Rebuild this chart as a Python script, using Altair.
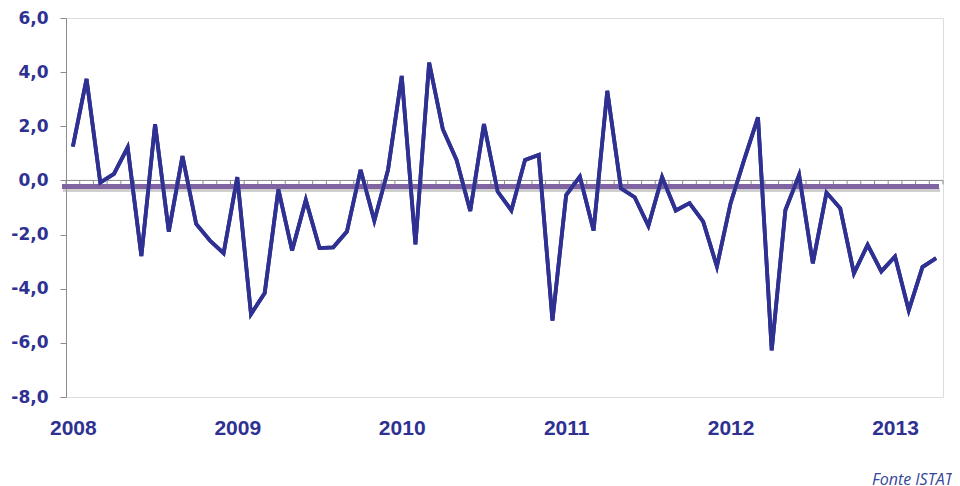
import altair as alt
import pandas as pd
import numpy as np

# Monthly values, Jan 2008 - Apr 2013
values = [
    1.25, 3.75, -0.08, 0.24, 1.22, -2.79, 2.08, -1.89, 0.90, -1.61, -2.22, -2.69,
    0.12, -4.94, -4.16, -0.33, -2.59, -0.72, -2.50, -2.47, -1.89, 0.39, -1.49, 0.39,
    3.86, -2.36, 4.35, 1.89, 0.76, -1.13, 2.08, -0.41, -1.11, 0.76, 0.94, -5.18,
    -0.54, 0.14, -1.85, 3.31, -0.29, -0.62, -1.68, 0.12, -1.11, -0.84, -1.52, -3.18,
    -0.84, 0.78, 2.33, -6.28, -1.09, 0.20, -3.06, -0.45, -1.03, -3.43, -2.38, -3.36,
    -2.81, -4.80, -3.20, -2.87,
]
years = ["2008", "2009", "2010", "2011", "2012", "2013"]
mean_value = [-0.22]
y_ticks = [-8, -6, -4, -2, 0, 2, 4, 6]

n = len(values)
df = pd.DataFrame({"pos": np.arange(n) + 0.5, "value": values})
bounds = pd.DataFrame({"b": np.arange(n + 1)})
jan_pos = [12 * i + 0.5 for i in range(len(years))]
mean_df = pd.DataFrame({"m": mean_value})

BLUE = "#2E3192"
GRAY = "#8C8C8C"

label_map = "{" + ",".join(f"'{p}':'{y}'" for p, y in zip(jan_pos, years)) + "}"

xscale = alt.Scale(domain=[0, n], nice=False, zero=False)
yscale = alt.Scale(domain=[-8, 6], nice=False)

x_axis = alt.Axis(
    values=jan_pos,
    labelExpr=f"{label_map}[toString(datum.value)]",
    domain=False,
    ticks=False,
    grid=False,
    title=None,
    labelFont="Liberation Sans",
    labelFontWeight="bold",
    labelFontSize=21,
    labelColor=BLUE,
    labelPadding=20,
    labelFlush=False,
)
y_axis = alt.Axis(
    values=y_ticks,
    labelExpr="replace(replace(format(datum.value, '.1f'), '.', ','), '\u2212', '-')",
    domain=True,
    domainColor=GRAY,
    ticks=True,
    tickColor=GRAY,
    tickSize=6,
    grid=False,
    title=None,
    labelFont="DejaVu Sans",
    labelFontWeight="bold",
    labelFontSize=17,
    labelColor=BLUE,
    labelPadding=12,
)

line = alt.Chart(df).mark_line(color=BLUE, strokeWidth=3.8, strokeJoin="miter").encode(
    x=alt.X("pos:Q", scale=xscale, axis=x_axis),
    y=alt.Y("value:Q", scale=yscale, axis=y_axis),
)

# zero axis line
zero_line = alt.Chart(mean_df).mark_rule(color=GRAY, strokeWidth=1).encode(
    x=alt.value(0), x2=alt.value(877), y=alt.datum(0, scale=yscale)
)

# month tick marks on zero line
ticks = alt.Chart(bounds).mark_rule(color=GRAY, strokeWidth=1, y2Offset=4).encode(
    x=alt.X("b:Q", scale=xscale, axis=x_axis),
    y=alt.datum(0, scale=yscale),
    y2=alt.datum(0),
)

# mean line shadow + mean line
shadow = alt.Chart(mean_df).mark_rule(color="#a0a0a0", strokeWidth=4, opacity=0.5, yOffset=3.5).encode(
    x=alt.value(-3), x2=alt.value(874), y=alt.Y("m:Q", scale=yscale)
)
mean_line = alt.Chart(mean_df).mark_rule(color="#8064A2", strokeWidth=5).encode(
    x=alt.value(-4), x2=alt.value(873), y=alt.Y("m:Q", scale=yscale)
)

source = alt.Chart(mean_df).mark_text(
    text="Fonte  ISTAT",
    font="Open Sans",
    fontStyle="italic",
    fontSize=16,
    color="#34479A",
    align="left",
    baseline="alphabetic",
).encode(x=alt.value(806), y=alt.value(467))

chart = (
    alt.layer(line, zero_line, ticks, shadow, mean_line, line, source)
    .properties(
        width=877,
        height=379,
        autosize=alt.AutoSizeParams(type="none"),
        padding={"left": 58, "top": 10, "right": 9, "bottom": 89},
    )
    .configure_view(strokeWidth=0, stroke="transparent")
    .configure(background="white")
)

chart.save("out.html", embed_options={"renderer": "svg", "actions": False})
